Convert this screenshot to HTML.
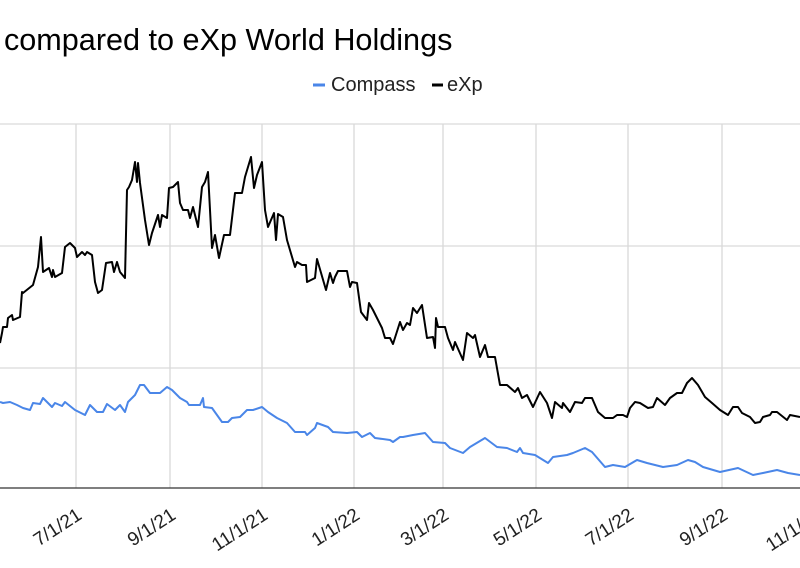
<!DOCTYPE html>
<html><head><meta charset="utf-8"><style>html,body{margin:0;padding:0;background:#fff}svg{display:block}</style></head>
<body>
<svg width="800" height="568" xmlns="http://www.w3.org/2000/svg" font-family="Liberation Sans, Arial, sans-serif">
<rect width="800" height="568" fill="#fff"/>
<text x="4" y="50" font-size="30.6" fill="#000">compared to eXp World Holdings</text>
<line x1="313" y1="85" x2="325" y2="85" stroke="#4a86e8" stroke-width="3"/>
<text x="331" y="91" font-size="20" fill="#222">Compass</text>
<line x1="432" y1="85" x2="443" y2="85" stroke="#000" stroke-width="3"/>
<text x="447" y="91" font-size="20" fill="#222">eXp</text>
<g stroke="#d9d9d9" stroke-width="1.3">
<line x1="0" y1="124" x2="800" y2="124"/><line x1="0" y1="246" x2="800" y2="246"/><line x1="0" y1="368" x2="800" y2="368"/>
<line x1="76" y1="124" x2="76" y2="488"/><line x1="170" y1="124" x2="170" y2="488"/><line x1="262" y1="124" x2="262" y2="488"/><line x1="354" y1="124" x2="354" y2="488"/>
<line x1="443" y1="124" x2="443" y2="488"/><line x1="536" y1="124" x2="536" y2="488"/><line x1="628" y1="124" x2="628" y2="488"/><line x1="722" y1="124" x2="722" y2="488"/>
</g>
<line x1="0" y1="488" x2="800" y2="488" stroke="#333" stroke-width="1.3"/>
<polyline fill="none" stroke="#4a86e8" stroke-width="2" stroke-linejoin="round" points="0,402 3,403 10,402 17,405 23,408 30,410 33,403 40,404 43,398 52,407 55,403 62,406 65,402 75,410 85,415 90,405 97,412 103,412 107,404 115,410 120,405 125,412 128,402 135,395 140,385 144,385 150,393 160,393 167,387 172,390 180,398 187,402 189,405 200,405 203,398 204,407 212,408 222,422 228,422 232,418 240,417 247,410 253,410 262,407 268,412 277,418 287,423 295,432 305,432 307,435 315,428 317,423 328,427 333,432 347,433 357,432 362,437 370,433 375,438 390,440 393,442 400,437 403,437 413,435 425,433 433,442 445,443 450,448 463,453 470,447 485,438 497,447 507,448 517,452 520,448 523,453 535,455 548,463 553,457 567,455 573,453 585,448 592,452 605,467 613,465 625,467 637,460 647,463 663,467 677,465 688,460 695,462 703,467 720,472 738,468 753,475 763,473 777,470 788,473 800,475"/>
<polyline fill="none" stroke="#000" stroke-width="2" stroke-linejoin="round" points="0,343 2,333 3,327 7,327 8,318 12,315 13,320 20,317 22,292 23,293 33,285 38,267 41,237 43,272 49,268 52,277 53,270 55,277 62,273 65,247 70,243 75,248 77,257 82,252 85,255 87,252 92,255 95,282 98,293 102,290 106,263 112,262 114,272 117,262 120,272 125,278 127,190 129,187 132,180 135,162 137,182 138,163 140,183 145,220 149,245 152,233 158,215 160,227 162,215 167,218 169,188 173,187 178,182 180,203 183,210 188,210 190,218 193,207 198,227 202,187 205,182 208,172 212,248 215,235 219,258 224,235 230,235 235,193 242,193 245,177 251,157 254,188 257,175 262,162 265,210 268,227 274,213 276,240 278,214 283,217 287,240 295,267 297,262 302,265 306,265 307,282 315,278 317,259 326,290 330,273 333,283 335,277 338,271 347,271 350,287 352,282 357,283 361,312 367,320 369,303 373,310 382,328 385,338 390,338 393,344 400,322 403,330 407,323 410,325 413,308 417,313 422,305 427,338 433,337 435,348 436,318 438,327 445,327 448,338 453,350 455,342 463,360 467,333 473,338 475,335 480,357 485,345 488,357 495,357 500,385 507,385 515,392 518,388 522,398 527,395 533,407 540,392 547,403 552,418 555,402 562,408 563,403 570,412 575,402 582,403 585,398 592,398 598,412 605,418 613,418 617,415 623,415 627,417 630,408 635,402 640,403 648,408 653,407 657,398 665,405 670,398 677,393 682,393 687,383 692,378 698,385 705,397 712,403 720,410 728,415 733,407 738,407 742,413 750,417 755,423 760,422 763,417 770,415 772,412 777,412 787,420 790,415 800,417"/>
<g font-size="19" fill="#222" text-anchor="end">
<text transform="translate(83,518) rotate(-33)">7/1/21</text>
<text transform="translate(177,518) rotate(-33)">9/1/21</text>
<text transform="translate(269,518) rotate(-33)">11/1/21</text>
<text transform="translate(361,518) rotate(-33)">1/1/22</text>
<text transform="translate(450,518) rotate(-33)">3/1/22</text>
<text transform="translate(543,518) rotate(-33)">5/1/22</text>
<text transform="translate(635,518) rotate(-33)">7/1/22</text>
<text transform="translate(729,518) rotate(-33)">9/1/22</text>
<text transform="translate(823,518) rotate(-33)">11/1/22</text>
</g>
</svg>
</body></html>
